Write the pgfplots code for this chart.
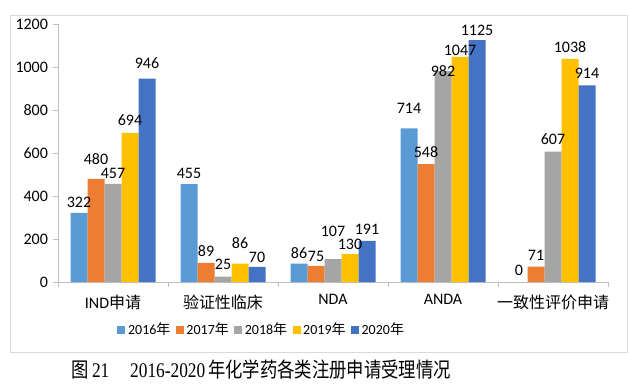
\documentclass[border=0pt]{standalone}
\usepackage{pgfplots}
\usepackage{pgfplotstable}
\pgfplotsset{compat=1.18}
\usepackage{graphicx}
\usepackage{fontspec}
\setmainfont{Carlito}
\newfontfamily\cjk{Noto Sans CJK SC}
\newfontfamily\serif{Liberation Serif}
\definecolor{cA}{HTML}{5B9BD5}
\definecolor{cB}{HTML}{ED7D31}
\definecolor{cC}{HTML}{A5A5A5}
\definecolor{cD}{HTML}{FFC000}
\definecolor{cE}{HTML}{4472C4}
\definecolor{frame}{HTML}{D9D9D9}
\definecolor{axisgray}{HTML}{BFBFBF}
\pgfplotstableread{
x y dy
0 322 0
1 455 1
2 86 0
3 714 7.5
4 0 1
}\tA
\pgfplotstableread{
x y dy
0 480 7
1 89 1.5
2 75 0
3 548 1.5
4 71 1.5
}\tB
\pgfplotstableread{
x y dy
0 457 0
1 25 1.5
2 107 13
3 982 -8
4 607 1.5
}\tC
\pgfplotstableread{
x y dy
0 694 2
1 86 7.5
2 130 0
3 1047 -2.5
4 1038 1.5
}\tD
\pgfplotstableread{
x y dy
0 946 4
1 70 0
2 191 1
3 1125 0
4 914 1.5
}\tE
\begin{document}
\begin{tikzpicture}
\useasboundingbox (0,0) rectangle (471.75pt,-287.25pt);
\draw[frame, line width=0.75pt] (7.5pt,-11.25pt) rectangle (470.25pt,-264pt);
\begin{axis}[
  at={(43.5pt,-211.5pt)}, anchor=south west,
  scale only axis, width=412.5pt, height=193.5pt,
  ymin=0, ymax=1200, ytick={0,200,...,1200},
  xmin=-0.5, xmax=4.5,
  xtick={0,1,2,3,4},
  xticklabels={{IND{\cjk 申请}},{\cjk 验证性临床},{NDA},{ANDA},{\cjk 一致性评价申请}},
  minor xtick={-0.5,0.5,1.5,2.5,3.5,4.5},
  major x tick style={draw=none},
  minor tick length=4pt, major tick length=4pt,
  tick align=outside,
  tick style={axisgray, line width=0.75pt},
  axis x line*=bottom, axis y line*=left,
  axis line style={axisgray, line width=0.75pt, -},
  ybar=0pt, bar width=12.75pt,
  /pgf/number format/assume math mode=true,
  /pgf/number format/1000 sep={},
  tick label style={font=\fontsize{12}{14}\selectfont, black},
  xticklabel style={yshift=-2pt},
  nodes near coords,
  visualization depends on={\thisrow{dy}\as\dy},
  every node near coord/.append style={font=\fontsize{12}{14}\selectfont, color=black, yshift=\dy pt},
  legend columns=5,
  legend style={draw=none, fill=none, at={(0.371,-0.186)}, anchor=center,
    font=\fontsize{10.5}{12}\selectfont, /tikz/every even column/.style={column sep=2pt}},
  legend image code/.code={\fill[#1] (0pt,-3pt) rectangle (6pt,3pt);},
]
\addplot[fill=cA, draw=none] table[x=x,y=y] {\tA};
\addplot[fill=cB, draw=none] table[x=x,y=y] {\tB};
\addplot[fill=cC, draw=none] table[x=x,y=y] {\tC};
\addplot[fill=cD, draw=none] table[x=x,y=y] {\tD};
\addplot[fill=cE, draw=none] table[x=x,y=y] {\tE};
\legend{2016{\cjk 年},2017{\cjk 年},2018{\cjk 年},2019{\cjk 年},2020{\cjk 年}}
\end{axis}
\node at (196pt,-277.5pt) {\scalebox{1}[1.2]{\fontsize{13}{15}\selectfont{\cjk 图}\,{\serif 21}\hspace{1.2em}{\serif 2016-2020}\,{\cjk 年化学药各类注册申请受理情况}}};
\end{tikzpicture}
\end{document}
